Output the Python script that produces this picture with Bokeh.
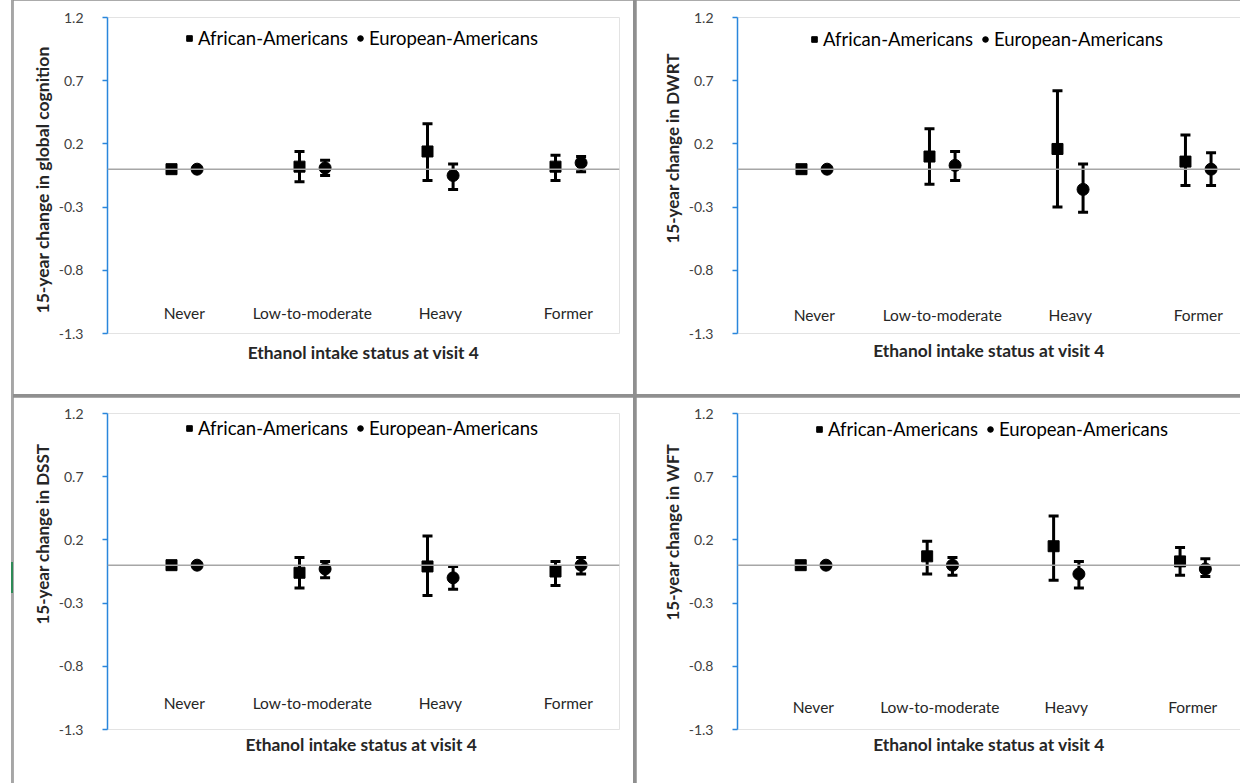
from bokeh.plotting import figure
from bokeh.models import (ColumnDataSource, Range1d, FixedTicker, PrintfTickFormatter,
                          Span, Whisker, TeeHead, Legend, LegendItem, GridBox, Spacer, Title)
from bokeh.layouts import row, column
from bokeh.core.properties import value
from bokeh.embed import file_html
from bokeh.resources import INLINE

categories = ["Never", "Low-to-moderate", "Heavy", "Former"]
y_ticks = [-1.3, -0.8, -0.3, 0.2, 0.7, 1.2]
series_names = ["African-Americans", "European-Americans"]

# 15-year change in global cognition
gc_aa_mean = [0.0, 0.02, 0.14, 0.02]
gc_aa_low = [0.0, -0.10, -0.09, -0.09]
gc_aa_high = [0.0, 0.14, 0.36, 0.11]
gc_ea_mean = [0.0, 0.01, -0.05, 0.05]
gc_ea_low = [0.0, -0.05, -0.16, -0.02]
gc_ea_high = [0.0, 0.07, 0.04, 0.10]

# 15-year change in DWRT
dw_aa_mean = [0.0, 0.10, 0.16, 0.06]
dw_aa_low = [0.0, -0.12, -0.30, -0.13]
dw_aa_high = [0.0, 0.32, 0.62, 0.27]
dw_ea_mean = [0.0, 0.03, -0.16, 0.0]
dw_ea_low = [0.0, -0.09, -0.34, -0.13]
dw_ea_high = [0.0, 0.14, 0.04, 0.13]

# 15-year change in DSST
ds_aa_mean = [0.0, -0.06, -0.01, -0.05]
ds_aa_low = [0.0, -0.18, -0.24, -0.16]
ds_aa_high = [0.0, 0.06, 0.23, 0.03]
ds_ea_mean = [0.0, -0.03, -0.10, 0.0]
ds_ea_low = [0.0, -0.10, -0.19, -0.07]
ds_ea_high = [0.0, 0.03, -0.01, 0.06]

# 15-year change in WFT
wf_aa_mean = [0.0, 0.07, 0.15, 0.03]
wf_aa_low = [0.0, -0.07, -0.12, -0.08]
wf_aa_high = [0.0, 0.19, 0.39, 0.14]
wf_ea_mean = [0.0, 0.0, -0.07, -0.03]
wf_ea_low = [0.0, -0.08, -0.18, -0.09]
wf_ea_high = [0.0, 0.06, 0.03, 0.05]

FONT = "Lato"
BLUE = "#2a86dc"
TEXT = "#262626"


def make_panel(ylabel, xlabel, aa, ea, w, h, mb, x_end, label_y, leg_xy, xl_standoff,
               ylab_offset, ylab_size):
    p = figure(width=w, height=h, x_range=Range1d(0.5, x_end), y_range=Range1d(-1.3, 1.2),
               output_backend="svg", toolbar_location=None,
               min_border_left=mb[0], min_border_right=mb[1],
               min_border_top=mb[2], min_border_bottom=mb[3])
    p.grid.visible = False
    p.outline_line_color = None
    p.background_fill_color = "white"
    p.border_fill_color = "white"

    xa = p.xaxis[0]
    xa.ticker = FixedTicker(ticks=[])
    xa.axis_line_color = None
    xa.major_tick_line_color = None
    xa.minor_tick_line_color = None
    xa.major_tick_out = 0
    xa.major_label_standoff = 0
    xa.axis_label = xlabel
    xa.axis_label_text_font = FONT
    xa.axis_label_text_font_style = "bold"
    xa.axis_label_text_font_size = "17.4px"
    xa.axis_label_text_color = TEXT
    xa.axis_label_standoff = xl_standoff

    ya = p.yaxis[0]
    ya.ticker = FixedTicker(ticks=y_ticks)
    ya.formatter = PrintfTickFormatter(format="%.1f")
    ya.axis_line_color = BLUE
    ya.axis_line_width = 1.5
    ya.major_tick_line_color = BLUE
    ya.major_tick_line_width = 1.5
    ya.major_tick_in = 0
    ya.major_tick_out = 5
    ya.minor_tick_line_color = None
    ya.major_label_standoff = 19
    ya.major_label_text_font = FONT
    ya.major_label_text_font_size = "14px"
    ya.major_label_text_color = "#404040"

    # y-axis title as a side title so it can sit off-centre like the original
    p.add_layout(Title(text=ylabel, align="left", offset=ylab_offset, standoff=6,
                       text_font=FONT, text_font_style="bold", text_font_size=ylab_size,
                       text_color=TEXT), "left")

    p.add_layout(Span(location=0, dimension="width", line_color="#a6a6a6", line_width=1.5))

    n = len(categories)
    renderers = []
    for k, (mean, low, high) in enumerate([aa, ea]):
        xs = [i + 1 + 0.2 * k for i in range(n)]
        src = ColumnDataSource(dict(x=xs, mean=mean, low=low, high=high))
        p.add_layout(Whisker(base="x", lower="low", upper="high", source=src,
                             line_color="black", line_width=3, level="glyph",
                             upper_head=TeeHead(size=10, line_width=3, line_color="black"),
                             lower_head=TeeHead(size=10, line_width=3, line_color="black")))
        r = p.scatter(x="x", y="mean", source=src, marker=["square", "circle"][k],
                      size=[11, 12][k], color="black")
        renderers.append(r)

    p.text(x=[i + 1.1 for i in range(n)], y=[label_y] * n, text=categories,
           text_align="center", text_baseline="middle", text_font=value(FONT),
           text_font_size="15.5px", text_color=TEXT)

    legend = Legend(items=[LegendItem(label=series_names[0], renderers=[renderers[0]]),
                           LegendItem(label=series_names[1], renderers=[renderers[1]])],
                    orientation="horizontal", location=leg_xy,
                    glyph_width=14, glyph_height=18, label_height=18, label_standoff=2,
                    spacing=5, padding=0, margin=0, border_line_color=None,
                    background_fill_alpha=0, label_text_font=FONT,
                    label_text_font_size="18.5px", label_text_color="black")
    p.add_layout(legend)
    return p


p1 = make_panel("15-year change in global cognition", "Ethanol intake status at visit 4",
                (gc_aa_mean, gc_aa_low, gc_aa_high), (gc_ea_mean, gc_ea_low, gc_ea_high),
                620, 394, (94, 14, 17, 61), 4.5, -1.14, (75, 284), 8, 20, "17.5px")
p2 = make_panel("15-year change  in DWRT", "Ethanol intake status at visit 4",
                (dw_aa_mean, dw_aa_low, dw_aa_high), (dw_ea_mean, dw_ea_low, dw_ea_high),
                604, 394, (101, 0, 17, 61), 4.43, -1.15, (70, 283), 6, 90, "17px")
p3 = make_panel("15-year change  in DSST", "Ethanol intake status  at visit 4",
                (ds_aa_mean, ds_aa_low, ds_aa_high), (ds_ea_mean, ds_ea_low, ds_ea_high),
                620, 386, (94, 14, 16, 53), 4.5, -1.09, (75, 290), 4, 105, "17px")
p4 = make_panel("15-year change  in WFT", "Ethanol intake status at visit 4",
                (wf_aa_mean, wf_aa_low, wf_aa_high), (wf_ea_mean, wf_ea_low, wf_ea_high),
                604, 386, (96, 0, 15, 54), 4.478, -1.12, (75, 289), 4, 109, "17px")

grid = GridBox(children=[(p1, 0, 0), (p2, 0, 1), (p3, 1, 0), (p4, 1, 1)], spacing=3,
               styles={"background-color": "#8f8f8f"})
edge = column(Spacer(width=2, height=562, styles={"background-color": "#a6a6a6"}),
              Spacer(width=2, height=31, styles={"background-color": "#2e8b57"}),
              Spacer(width=2, height=190, styles={"background-color": "#a6a6a6"}))
layout = row(Spacer(width=11, height=783), edge, grid)

open("out.html", "w").write(file_html(layout, INLINE))
